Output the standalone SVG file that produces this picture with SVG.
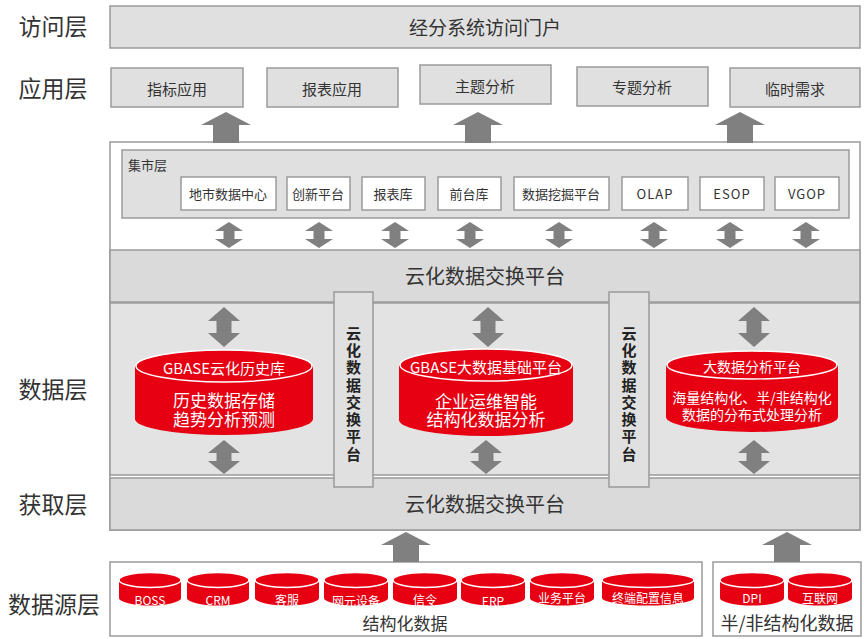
<svg xmlns="http://www.w3.org/2000/svg" xmlns:xlink="http://www.w3.org/1999/xlink" width="864" height="639" viewBox="0 0 864 639">
<style>
text{font-family:"Noto Sans CJK SC","Noto Sans",sans-serif;text-anchor:middle;dominant-baseline:central;fill:#333}
.box{fill:#e0e0e0;stroke:#9a9a9a;stroke-width:1.5}
.wbox{fill:#fff;stroke:#9a9a9a;stroke-width:1.5}
.band{fill:#dadada;stroke:#9a9a9a;stroke-width:1.5}
.region{fill:#e3e3e3;stroke:#9a9a9a;stroke-width:1.5}
.lay{font-size:23px;fill:#333}
.app{font-size:15px}
.inner{font-size:13px}
.bt{font-size:20px}
.vt{font-size:15px;font-weight:bold;fill:#222;writing-mode:vertical-rl;text-anchor:start;letter-spacing:2.3px}
.red{fill:#e60012}
.top{fill:#e60012;stroke:#fff;stroke-width:1.5}
.wt{fill:#fff}
.arr{fill:#808080}
</style>
<defs>
<path id="dsm" d="M0 222 L14 231 L5.5 231 L5.5 239 L14 239 L0 248 L-14 239 L-5.5 239 L-5.5 231 L-14 231 Z"/>
<path id="dbA" d="M0 307 L16 321 L7.5 321 L7.5 333 L16 333 L0 347 L-16 333 L-7.5 333 L-7.5 321 L-16 321 Z"/>
<path id="dbB" d="M0 440 L16 453 L7.5 453 L7.5 461 L16 461 L0 474 L-16 461 L-7.5 461 L-7.5 453 L-16 453 Z"/>
<path id="upT" d="M0 112 L25 125 L13 125 L13 143 L-13 143 L-13 125 L-25 125 Z"/>
<path id="upB" d="M0 532 L25 545 L13 545 L13 562 L-13 562 L-13 545 L-25 545 Z"/>
</defs>

<g id="layer-labels">
<text class="lay" x="53" y="25">访问层</text>
<text class="lay" x="53" y="87">应用层</text>
<text class="lay" x="53" y="388">数据层</text>
<text class="lay" x="53" y="503">获取层</text>
<text class="lay" x="54" y="603">数据源层</text>
</g>

<g id="portal">
<rect class="box" x="110" y="6" width="750" height="42"/>
<text x="485" y="26" style="font-size:19px">经分系统访问门户</text>
</g>

<g id="apps">
<g id="app1"><rect class="box" x="111" y="68" width="132" height="39"/><text class="app" x="177" y="88">指标应用</text></g>
<g id="app2"><rect class="box" x="267" y="68" width="131" height="39"/><text class="app" x="332" y="88">报表应用</text></g>
<g id="app3"><rect class="box" x="420" y="65" width="131" height="39"/><text class="app" x="485" y="85">主题分析</text></g>
<g id="app4"><rect class="box" x="577" y="67" width="131" height="39"/><text class="app" x="642" y="86">专题分析</text></g>
<g id="app5"><rect class="box" x="730" y="68" width="130" height="39"/><text class="app" x="795" y="88">临时需求</text></g>
</g>

<g id="frame">
<rect class="wbox" x="110" y="142" width="750" height="388"/>
</g>

<g id="mart">
<rect class="box" x="122" y="150" width="727" height="68"/>
<text x="128" y="164" style="font-size:13px;text-anchor:start">集市层</text>
<g id="m1"><rect class="wbox" x="181" y="177" width="95" height="33"/><text class="inner" x="228" y="193">地市数据中心</text></g>
<g id="m2"><rect class="wbox" x="287" y="177" width="63" height="33"/><text class="inner" x="318" y="193">创新平台</text></g>
<g id="m3"><rect class="wbox" x="362" y="177" width="63" height="33"/><text class="inner" x="393" y="193">报表库</text></g>
<g id="m4"><rect class="wbox" x="438" y="177" width="63" height="33"/><text class="inner" x="469" y="193">前台库</text></g>
<g id="m5"><rect class="wbox" x="514" y="177" width="95" height="33"/><text class="inner" x="561" y="193">数据挖掘平台</text></g>
<g id="m6"><rect class="wbox" x="622" y="177" width="66" height="33"/><text class="inner" x="655" y="193" style="letter-spacing:1px">OLAP</text></g>
<g id="m7"><rect class="wbox" x="700" y="177" width="64" height="33"/><text class="inner" x="732" y="193" style="letter-spacing:1px">ESOP</text></g>
<g id="m8"><rect class="wbox" x="775" y="177" width="64" height="33"/><text class="inner" x="807" y="193" style="letter-spacing:1px">VGOP</text></g>
</g>

<g id="exchange-top">
<rect class="band" x="110" y="250" width="750" height="52"/>
<text class="bt" x="485" y="275">云化数据交换平台</text>
</g>

<g id="data-region">
<rect class="region" x="110" y="303" width="750" height="172"/>
</g>

<g id="exchange-bottom">
<rect class="band" x="110" y="478" width="750" height="52"/>
<text class="bt" x="485" y="503">云化数据交换平台</text>
</g>

<g id="vex1">
<rect class="box" x="334" y="292" width="39" height="195"/>
<text class="vt" x="353.5" y="325.5">云化数据交换平台</text>
</g>
<g id="vex2">
<rect class="box" x="609" y="292" width="40" height="195"/>
<text class="vt" x="629" y="325.5">云化数据交换平台</text>
</g>

<g id="cyl1">
<path class="red" d="M135 366 L135 419 A89 16 0 0 0 313 419 L313 366 Z"/>
<ellipse class="top" cx="224" cy="366" rx="88" ry="16"/>
<text class="wt" x="224" y="367" style="font-size:15px">GBASE云化历史库</text>
<text class="wt" x="224" y="399" style="font-size:17px"><tspan x="224" y="399">历史数据存储</tspan><tspan x="224" y="418">趋势分析预测</tspan></text>
</g>
<g id="cyl2">
<path class="red" d="M399 365 L399 420 A87 16 0 0 0 573 420 L573 365 Z"/>
<ellipse class="top" cx="486" cy="365" rx="86" ry="16"/>
<text class="wt" x="486" y="366" style="font-size:15px">GBASE大数据基础平台</text>
<text class="wt" x="486" y="400" style="font-size:17px"><tspan x="486" y="400">企业运维智能</tspan><tspan x="486" y="418">结构化数据分析</tspan></text>
</g>
<g id="cyl3">
<path class="red" d="M666 365 L666 417 A86 15 0 0 0 838 417 L838 365 Z"/>
<ellipse class="top" cx="752" cy="365" rx="85" ry="14"/>
<text class="wt" x="752" y="366" style="font-size:14px">大数据分析平台</text>
<text class="wt" x="752" y="397" style="font-size:14px"><tspan x="752" y="397">海量结构化、半/非结构化</tspan><tspan x="752" y="414">数据的分布式处理分析</tspan></text>
</g>

<g id="src-struct">
<rect class="wbox" x="110" y="562" width="592" height="74"/>
<text x="405" y="622" style="font-size:17px">结构化数据</text>
</g>
<g id="src-unstruct">
<rect class="wbox" x="713" y="562" width="148" height="74"/>
<text x="787" y="622" style="font-size:18px">半/非结构化数据</text>
</g>

<g id="s-boss"><path class="red" d="M119 580 L119 598 A31 7.5 0 0 0 181 598 L181 580 Z"/><ellipse class="top" cx="150" cy="580" rx="31" ry="7.5"/><text class="wt" x="150" y="599" style="font-size:12px">BOSS</text></g>
<g id="s-crm"><path class="red" d="M187 580 L187 598 A31 7.5 0 0 0 249 598 L249 580 Z"/><ellipse class="top" cx="218" cy="580" rx="31" ry="7.5"/><text class="wt" x="218" y="599" style="font-size:12px">CRM</text></g>
<g id="s-kf"><path class="red" d="M255 580 L255 598 A32 7.5 0 0 0 319 598 L319 580 Z"/><ellipse class="top" cx="287" cy="580" rx="32" ry="7.5"/><text class="wt" x="287" y="599" style="font-size:12px">客服</text></g>
<g id="s-wy"><path class="red" d="M324 580 L324 598 A32 7.5 0 0 0 388 598 L388 580 Z"/><ellipse class="top" cx="356" cy="580" rx="32" ry="7.5"/><text class="wt" x="356" y="600" style="font-size:12px">网元设备</text></g>
<g id="s-xl"><path class="red" d="M393 580 L393 598 A32 7.5 0 0 0 457 598 L457 580 Z"/><ellipse class="top" cx="425" cy="580" rx="32" ry="7.5"/><text class="wt" x="425" y="599" style="font-size:12px">信令</text></g>
<g id="s-erp"><path class="red" d="M461 580 L461 598 A32 7.5 0 0 0 525 598 L525 580 Z"/><ellipse class="top" cx="493" cy="580" rx="32" ry="7.5"/><text class="wt" x="493" y="600" style="font-size:12px">ERP</text></g>
<g id="s-yw"><path class="red" d="M530 580 L530 598 A32 7.5 0 0 0 594 598 L594 580 Z"/><ellipse class="top" cx="562" cy="580" rx="32" ry="7.5"/><text class="wt" x="562" y="597" style="font-size:12px">业务平台</text></g>
<g id="s-zd"><path class="red" d="M602 580 L602 598 A46 7.5 0 0 0 694 598 L694 580 Z"/><ellipse class="top" cx="648" cy="580" rx="46" ry="7.5"/><text class="wt" x="648" y="597" style="font-size:12px">终端配置信息</text></g>
<g id="s-dpi"><path class="red" d="M720 580 L720 598 A32 7.5 0 0 0 784 598 L784 580 Z"/><ellipse class="top" cx="752" cy="580" rx="32" ry="7.5"/><text class="wt" x="752" y="597" style="font-size:12px">DPI</text></g>
<g id="s-hlw"><path class="red" d="M788 580 L788 598 A32 7.5 0 0 0 852 598 L852 580 Z"/><ellipse class="top" cx="820" cy="580" rx="32" ry="7.5"/><text class="wt" x="820" y="597" style="font-size:12px">互联网</text></g>

<g id="connectors" class="arr">
<use xlink:href="#upT" x="226"/>
<use xlink:href="#upT" x="478"/>
<use xlink:href="#upT" x="740"/>
<use xlink:href="#dsm" x="229"/>
<use xlink:href="#dsm" x="319"/>
<use xlink:href="#dsm" x="395"/>
<use xlink:href="#dsm" x="470"/>
<use xlink:href="#dsm" x="559"/>
<use xlink:href="#dsm" x="654"/>
<use xlink:href="#dsm" x="730"/>
<use xlink:href="#dsm" x="806"/>
<use xlink:href="#dbA" x="224"/>
<use xlink:href="#dbA" x="488"/>
<use xlink:href="#dbA" x="754"/>
<use xlink:href="#dbB" x="224"/>
<use xlink:href="#dbB" x="486"/>
<use xlink:href="#dbB" x="754"/>
<use xlink:href="#upB" x="406"/>
<use xlink:href="#upB" x="787"/>
</g>
</svg>
